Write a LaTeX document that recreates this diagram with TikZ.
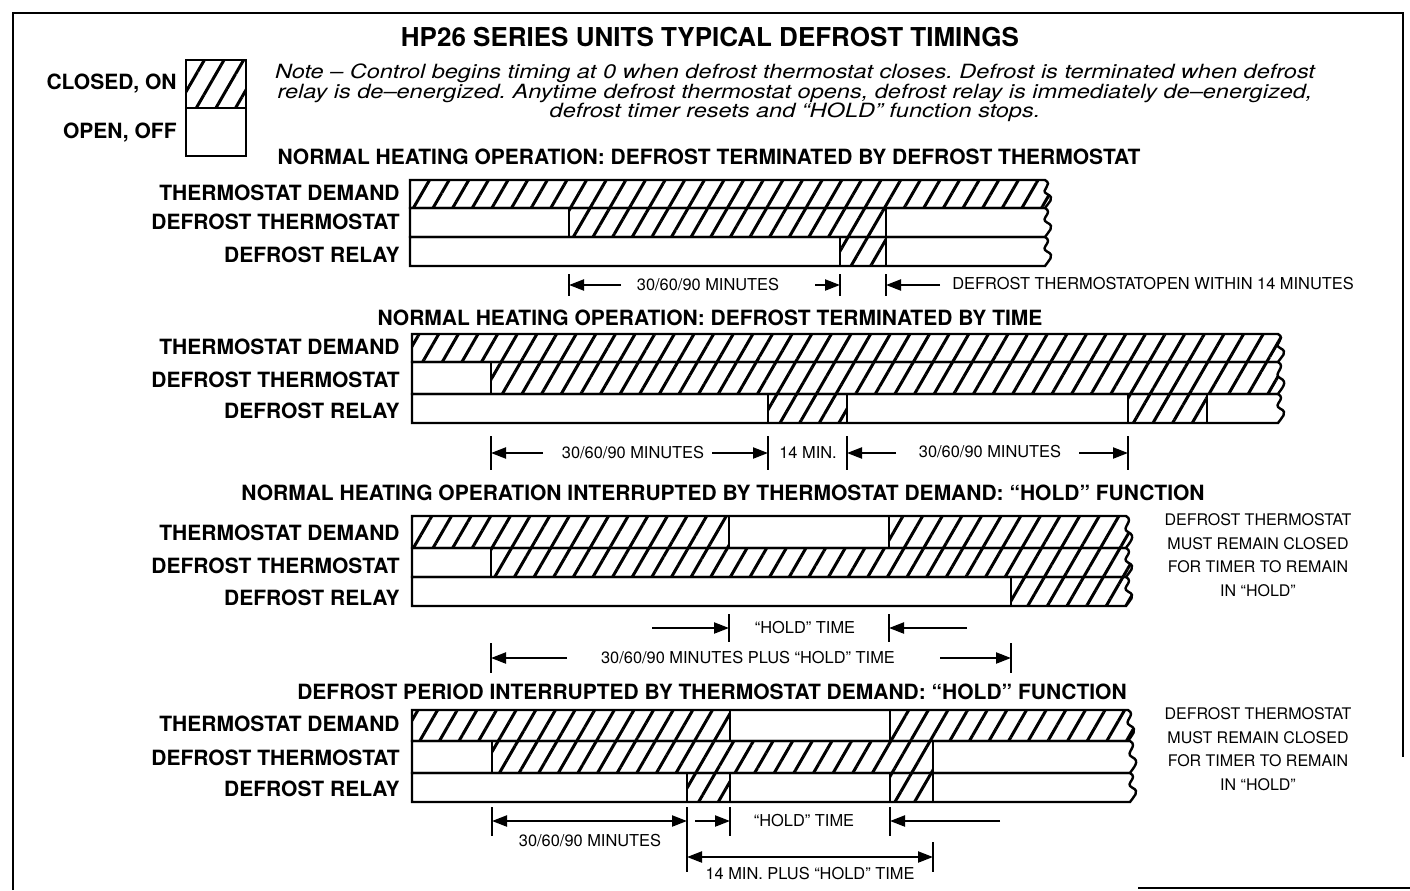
\documentclass[tikz,border=0pt]{standalone}
\usepackage{fontspec}
\setmainfont{TeX Gyre Heros}
\newfontfamily\notefont[FakeStretch=1.2,Ligatures=TeX]{TeX Gyre Heros}
\usetikzlibrary{arrows.meta,patterns.meta}

\tikzset{
	bar/.style={line width=1.2pt},
	on/.style={pattern={Lines[angle=60,distance=8.5pt,line width=1.5pt]}},
	lbl/.style={anchor=east,inner sep=0pt,font=\bfseries\fontsize{10.5}{12}\selectfont},
	head/.style={inner sep=0pt,font=\bfseries\fontsize{10.5}{12}\selectfont},
	small/.style={inner sep=0pt,font=\fontsize{8.2}{9}\selectfont},
	remark/.style={inner sep=0pt,align=center,font=\fontsize{8}{11.75}\selectfont},
	tick/.style={line width=0.7pt},
	dim/.style={line width=1.1pt,-{Triangle[length=7.5pt,width=5.5pt]}},
	dimdim/.style={line width=1.1pt,{Triangle[length=7.5pt,width=5.5pt]}-{Triangle[length=7.5pt,width=5.5pt]}},
}

% torn right end of a row, from top #1 down to bottom #2
\newcommand{\tear}[2]{.. controls +(9,5) and +(-8,-4) .. ++(2,{(#2-#1)*0.5}) .. controls +(9,4) and +(3,-5) .. ++(-2,{(#2-#1)*0.5})}

% one signal row: left, top, bottom, torn end, hatched (on) spans
\newcommand{\sigrow}[5]{%
	\begin{scope}
		\clip (#1,#2) -- (#4,#2) \tear{#2}{#3} -- (#1,#3) -- cycle;
		\foreach \a/\b in {#5} {
			\fill[on] (\a,#2) rectangle (\b,#3);
			\draw[bar] (\a,#2) -- (\a,#3) (\b,#2) -- (\b,#3);
		}
	\end{scope}
	\draw[bar] (#1,#2) -- (#4,#2) \tear{#2}{#3} -- (#1,#3) -- cycle;
}

\begin{document}
\begin{tikzpicture}[x=0.5pt,y=-0.5pt]
	\useasboundingbox (0,0) rectangle (1410,890);
	% frame
	\draw[line width=1.2pt] (13,890) -- (13,13) -- (1403,13) -- (1403,757);
	\draw[line width=1.2pt] (1138,888) -- (1410,888);

	% title, legend and note
	\node[inner sep=0pt,font=\bfseries\fontsize{13}{15}\selectfont] (title) at (710,37) {HP26 SERIES UNITS TYPICAL DEFROST TIMINGS};
	\node[lbl] (closed) at (177,84) {CLOSED, ON};
	\node[lbl] (open) at (177,133) {OPEN, OFF};
	\fill[on] (186,60) rectangle (246,108);
	\draw[bar] (186,60) rectangle (246,156) (186,108) -- (246,108);
	\node[inner sep=0pt,align=center,font=\notefont\itshape\frenchspacing\fontsize{9.8}{9.75}\selectfont] (note) at (795,93)
		{Note – Control begins timing at 0 when defrost thermostat closes. Defrost is terminated when defrost\\
		relay is de–energized. Anytime defrost thermostat opens, defrost relay is immediately de–energized,\\
		defrost timer resets and “HOLD” function stops.};

	% normal heating, terminated by defrost thermostat
	\node[head] (h1) at (709,157) {NORMAL HEATING OPERATION: DEFROST TERMINATED BY DEFROST THERMOSTAT};
	\node[lbl] (td1) at (400,193) {THERMOSTAT DEMAND};
	\node[lbl] (dt1) at (400,222) {DEFROST THERMOSTAT};
	\node[lbl] (dr1) at (400,255) {DEFROST RELAY};
	\sigrow{410}{180}{208}{1045}{410/1100}
	\sigrow{410}{208}{237}{1045}{569/886}
	\sigrow{410}{237}{266}{1045}{840/886}
	\coordinate (a1) at (569,285);
	\coordinate (a2) at (840,285);
	\coordinate (a3) at (886,285);
	\foreach \c in {a1,a2,a3} \draw[tick] (\c) ++(0,-11) -- ++(0,22);
	\coordinate (a1e) at (621,285);
	\coordinate (a2e) at (815,285);
	\coordinate (a3e) at (940,285);
	\draw[dim] (a1e) -- (a1);
	\draw[dim] (a2e) -- (a2);
	\draw[dim] (a3e) -- (a3);
	\node[small] (m1) at (708,285) {30/60/90 MINUTES};
	\node[small,anchor=west] (m2) at (952,284) {DEFROST THERMOSTATOPEN WITHIN 14 MINUTES};

	% normal heating, terminated by time
	\node[head] (h2) at (710,318) {NORMAL HEATING OPERATION: DEFROST TERMINATED BY TIME};
	\node[lbl] (td2) at (400,347) {THERMOSTAT DEMAND};
	\node[lbl] (dt2) at (400,380) {DEFROST THERMOSTAT};
	\node[lbl] (dr2) at (400,411) {DEFROST RELAY};
	\sigrow{412}{334}{362}{1278}{412/1400}
	\sigrow{412}{362}{394}{1278}{491/1400}
	\sigrow{412}{394}{423}{1278}{768/847,1128/1207}
	\coordinate (b1) at (491,453);
	\coordinate (b2) at (768,453);
	\coordinate (b3) at (847,453);
	\coordinate (b4) at (1128,453);
	\foreach \c in {b1,b2,b3,b4} \draw[tick] (\c) ++(0,-17) -- ++(0,34);
	\coordinate (b1e) at (543,453);
	\coordinate (b2e) at (712,453);
	\coordinate (b3e) at (896,453);
	\coordinate (b4e) at (1079,453);
	\draw[dim] (b1e) -- (b1);
	\draw[dim] (b2e) -- (b2);
	\draw[dim] (b3e) -- (b3);
	\draw[dim] (b4e) -- (b4);
	\node[small] (n1) at (633,453) {30/60/90 MINUTES};
	\node[small] (n2) at (808,453) {14 MIN.};
	\node[small] (n3) at (990,452) {30/60/90 MINUTES};

	% hold function during normal heating
	\node[head] (h3) at (723,493) {NORMAL HEATING OPERATION INTERRUPTED BY THERMOSTAT DEMAND: “HOLD” FUNCTION};
	\node[lbl] (td3) at (400,533) {THERMOSTAT DEMAND};
	\node[lbl] (dt3) at (400,566) {DEFROST THERMOSTAT};
	\node[lbl] (dr3) at (400,598) {DEFROST RELAY};
	\sigrow{412}{516}{548}{1126}{412/729,889/1300}
	\sigrow{412}{548}{577}{1126}{491/1300}
	\sigrow{412}{577}{606}{1126}{1011/1300}
	\node[remark] (rm3) at (1258,555) {DEFROST THERMOSTAT\\MUST REMAIN CLOSED\\FOR TIMER TO REMAIN\\IN “HOLD”};
	\coordinate (c1) at (729,628);
	\coordinate (c2) at (889,628);
	\coordinate (c3) at (491,658);
	\coordinate (c4) at (1011,658);
	\foreach \c in {c1,c2} \draw[tick] (\c) ++(0,-14) -- ++(0,28);
	\foreach \c in {c3,c4} \draw[tick] (\c) ++(0,-15) -- ++(0,30);
	\coordinate (c1e) at (652,628);
	\coordinate (c2e) at (967,628);
	\coordinate (c3e) at (567,658);
	\coordinate (c4e) at (940,658);
	\draw[dim] (c1e) -- (c1);
	\draw[dim] (c2e) -- (c2);
	\draw[dim] (c3e) -- (c3);
	\draw[dim] (c4e) -- (c4);
	\node[small] (k1) at (805,628) {“HOLD” TIME};
	\node[small] (k2) at (748,658) {30/60/90 MINUTES PLUS “HOLD” TIME};

	% hold function during defrost
	\node[head] (h4) at (712,692) {DEFROST PERIOD INTERRUPTED BY THERMOSTAT DEMAND: “HOLD” FUNCTION};
	\node[lbl] (td4) at (400,724) {THERMOSTAT DEMAND};
	\node[lbl] (dt4) at (400,758) {DEFROST THERMOSTAT};
	\node[lbl] (dr4) at (400,789) {DEFROST RELAY};
	\sigrow{412}{710}{741}{1128}{412/730,890/1300}
	\sigrow{412}{741}{773}{1130}{492/933}
	\sigrow{412}{773}{802}{1130}{687/730,890/933}
	\node[remark] (rm4) at (1258,749) {DEFROST THERMOSTAT\\MUST REMAIN CLOSED\\FOR TIMER TO REMAIN\\IN “HOLD”};
	\coordinate (d1) at (492,821);
	\coordinate (d2) at (687,821);
	\coordinate (d3) at (730,821);
	\coordinate (d4) at (890,821);
	\coordinate (d5) at (687,857);
	\coordinate (d6) at (933,857);
	\foreach \c in {d1,d3,d4} \draw[tick] (\c) ++(0,-14) -- ++(0,29);
	\draw[tick] (d2) ++(0,-14) -- ++(0,65);
	\draw[tick] (d6) ++(0,-15) -- ++(0,30);
	\coordinate (d3e) at (695,821);
	\coordinate (d4e) at (1000,821);
	\draw[dimdim] (d1) -- (d2);
	\draw[dim] (d3e) -- (d3);
	\draw[dim] (d4e) -- (d4);
	\draw[dimdim] (d5) -- (d6);
	\node[small] (l1) at (804,821) {“HOLD” TIME};
	\node[small] (l2) at (590,841) {30/60/90 MINUTES};
	\node[small] (l3) at (810,874) {14 MIN. PLUS “HOLD” TIME};
\end{tikzpicture}
\end{document}
